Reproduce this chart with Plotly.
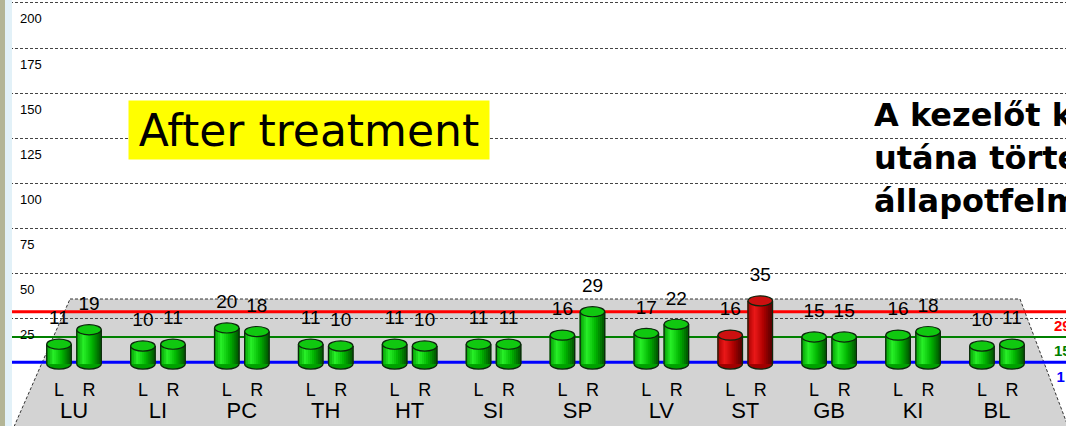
import plotly.graph_objects as go

# ---------------- data ----------------
categories = ["LU", "LI", "PC", "TH", "HT", "SI", "SP", "LV", "ST", "GB", "KI", "BL"]
left_values = [11, 10, 20, 11, 11, 11, 16, 17, 16, 15, 16, 10]
right_values = [19, 11, 18, 10, 10, 11, 29, 22, 35, 15, 18, 11]
flagged = ["ST"]
side_labels = ["L", "R"]
y_ticks = [25, 50, 75, 100, 125, 150, 175, 200]
thresholds = [29, 15, 1]
threshold_colors = ["#ff0000", "#008000", "#0000ff"]
title_text = "After treatment"
side_text = ["A kezelőt k", "utána törté", "állapotfelm"]

# ---------------- geometry / style ----------------
W, H = 1066, 426
OFF = 0.179          # half distance between L and R cylinders (category units)
BW = 0.292           # cylinder width (category units)
CAP = 2.8            # half height of ellipse cap (value units)
NSTRIP = 12
FONT = "Liberation Sans, Arial, sans-serif"


def lerp(stops, t):
    for (t0, c0), (t1, c1) in zip(stops, stops[1:]):
        if t0 <= t <= t1:
            f = (t - t0) / (t1 - t0)
            return "rgb(%d,%d,%d)" % tuple(round(a + (b - a) * f) for a, b in zip(c0, c1))
    return "rgb(%d,%d,%d)" % stops[-1][1]


green_stops = [(0, (0, 150, 0)), (0.3, (40, 240, 40)), (0.65, (0, 180, 0)), (1, (0, 85, 0))]
red_stops = [(0, (165, 0, 0)), (0.3, (235, 25, 25)), (0.65, (175, 0, 0)), (1, (85, 0, 0))]

xs, vals, reds = [], [], []
for i, c in enumerate(categories):
    for k, v in enumerate((left_values[i], right_values[i])):
        xs.append(i + (-OFF if k == 0 else OFF))
        vals.append(v)
        reds.append(c in flagged)

fig = go.Figure()

# cylinder bodies as shaded strips
sw = BW / NSTRIP
for s in range(NSTRIP):
    t = (s + 0.5) / NSTRIP
    cols = [lerp(red_stops if r else green_stops, t) for r in reds]
    fig.add_trace(go.Bar(
        x=[x - BW / 2 + sw * (s + 0.5) for x in xs], y=vals, width=sw * 1.6,
        marker=dict(color=cols, line=dict(width=0)), showlegend=False, hoverinfo="skip"))

# cylinder outlines
ox, oy = [], []
for x, v in zip(xs, vals):
    ox += [x - BW / 2, x - BW / 2, None, x + BW / 2, x + BW / 2, None]
    oy += [0, v, None, 0, v, None]
fig.add_trace(go.Scatter(x=ox, y=oy, mode="lines", line=dict(color="#0d260d", width=1.2),
                         showlegend=False, hoverinfo="skip"))

# value labels
fig.add_trace(go.Scatter(x=xs, y=[v + 13.6 for v in vals], mode="text",
                         text=[str(v) for v in vals], textposition="middle center",
                         textfont=dict(family=FONT, size=19, color="#000000"),
                         showlegend=False, hoverinfo="skip", cliponaxis=False))

# L / R labels
fig.add_trace(go.Scatter(x=xs, y=[-15.4] * len(xs), mode="text",
                         text=[side_labels[j % 2] for j in range(len(xs))],
                         textfont=dict(family=FONT, size=18, color="#000000"),
                         showlegend=False, hoverinfo="skip"))

# category labels
fig.add_trace(go.Scatter(x=list(range(len(categories))), y=[-26.8] * len(categories), mode="text",
                         text=categories, textfont=dict(family=FONT, size=22, color="#000000"),
                         showlegend=False, hoverinfo="skip"))

# threshold labels at right edge
fig.add_trace(go.Scatter(x=[11.68, 11.68, 11.71], y=[t - 8.6 for t in thresholds], mode="text",
                         text=[str(t) for t in thresholds], textposition="middle right",
                         textfont=dict(family=FONT, size=15, color=threshold_colors, weight="bold"),
                         showlegend=False, hoverinfo="skip", cliponaxis=False))

shapes = []
px = lambda p: p / W
py = lambda p: 1 - p / H
# floor (trapezoid)
shapes.append(dict(type="path", xref="paper", yref="paper", layer="below",
                   path="M %f,%f L %f,%f L %f,%f L %f,%f Z" % (
                       px(70), py(299), px(1020), py(299), px(1075), py(445), px(6), py(445)),
                   fillcolor="#d3d3d3", line=dict(color="#333333", width=1, dash="3px,2px")))
# threshold lines
for t, c in zip(thresholds, threshold_colors):
    shapes.append(dict(type="line", xref="paper", yref="y", x0=0, x1=1, y0=t, y1=t, layer="between",
                       line=dict(color=c, width=3 if c != "#008000" else 2)))
# bottom and top caps
for x, v, r in zip(xs, vals, reds):
    shapes.append(dict(type="circle", xref="x", yref="y", layer="between",
                       x0=x - BW / 2, x1=x + BW / 2, y0=-CAP, y1=CAP,
                       fillcolor="#a00000" if r else "#00a000", line=dict(color="#0d260d", width=1.2)))
    shapes.append(dict(type="circle", xref="x", yref="y", layer="above",
                       x0=x - BW / 2, x1=x + BW / 2, y0=v - CAP, y1=v + CAP,
                       fillcolor="#cc1010" if r else "#10c810", line=dict(color="#0d260d", width=1.2)))
# left window strip
shapes.append(dict(type="rect", xref="paper", yref="paper", layer="above", x0=0, x1=px(5), y0=0, y1=1,
                   fillcolor="#b3b596", line=dict(width=0)))
shapes.append(dict(type="rect", xref="paper", yref="paper", layer="above", x0=px(5), x1=px(12), y0=0, y1=1,
                   fillcolor="#e2f1f8", line=dict(width=0)))

annotations = [dict(xref="paper", yref="paper", x=px(128), y=py(100), xanchor="left", yanchor="top",
                    text=title_text, showarrow=False, bgcolor="#ffff00", width=360, height=58, borderpad=0,
                    font=dict(family="DejaVu Sans", size=44, color="#000000"))]
for j, line in enumerate(side_text):
    annotations.append(dict(xref="paper", yref="paper", x=px(872), y=py(115 + 43 * j),
                            xanchor="left", yanchor="middle", text=line, showarrow=False,
                            font=dict(family="DejaVu Sans", size=32, color="#000000", weight="bold")))

fig.update_layout(
    width=W, height=H, margin=dict(l=0, r=0, t=0, b=0),
    paper_bgcolor="white", plot_bgcolor="white", barmode="overlay",
    shapes=shapes, annotations=annotations, showlegend=False,
    xaxis=dict(range=[-0.882, 11.823], visible=False, fixedrange=True),
    yaxis=dict(range=[-34.3, 201.6], tickvals=y_ticks, ticktext=[str(t) for t in y_ticks],
               showgrid=True, gridcolor="#444444", gridwidth=1, griddash="3px,2px",
               zeroline=False, showline=False, ticks="", fixedrange=True,
               ticklabelposition="inside", ticklabelstandoff=17, ticklabelshift=16,
               tickfont=dict(family=FONT, size=13, color="#000000")),
)

fig.write_html("out.html", config={"displayModeBar": False},
               post_script="document.body.style.margin='0px';document.body.style.overflow='hidden';")
